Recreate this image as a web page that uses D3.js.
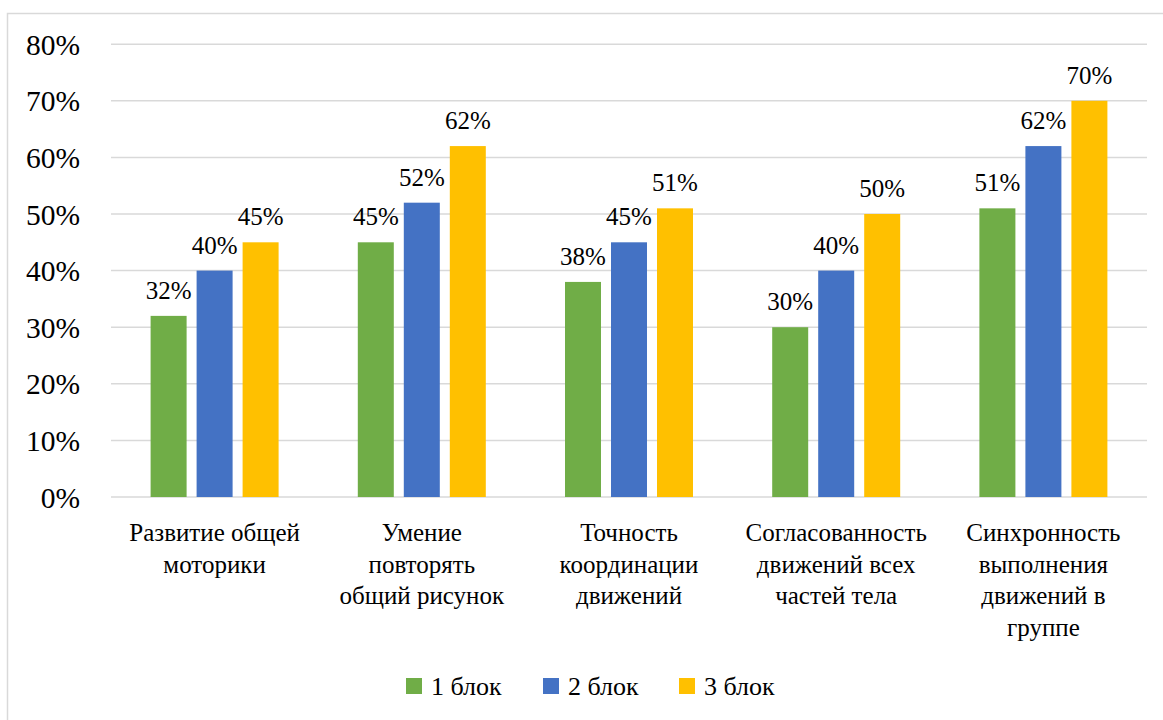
<!DOCTYPE html>
<html>
<head>
<meta charset="utf-8">
<script src="https://cdn.jsdelivr.net/npm/d3@7"></script>
</head>
<body style="margin:0;background:#fff">
<svg id="chart" width="1163" height="720"></svg>
<script>
// Categories (multi-line labels) and series values, in percent
const categories = [
  ["Развитие общей", "моторики"],
  ["Умение", "повторять", "общий рисунок"],
  ["Точность", "координации", "движений"],
  ["Согласованность", "движений всех", "частей тела"],
  ["Синхронность", "выполнения", "движений в", "группе"]
];
const seriesNames = ["1 блок", "2 блок", "3 блок"];
const block1 = [32, 45, 38, 30, 51];
const block2 = [40, 52, 45, 40, 62];
const block3 = [45, 62, 51, 50, 70];
const yTicks = [0, 10, 20, 30, 40, 50, 60, 70, 80];
const colors = ["#70AD47", "#4472C4", "#FFC000"];

const series = [block1, block2, block3];
const faces = ["Liberation Serif"];

// Apply the serif label face to a selection
function serif(sel) {
  return sel.style("font-family", () => `"${faces[0]}"`);
}

const svg = d3.select("#chart");

// Outer chart frame
svg.append("rect")
  .attr("x", 7.5).attr("y", 13.5)
  .attr("width", 1200).attr("height", 800)
  .attr("fill", "none")
  .attr("stroke", "#D9D9D9")
  .attr("stroke-width", 1.5);

const plot = { left: 111, right: 1147, top: 44.2, bottom: 497 };

const x = d3.scaleBand()
  .domain(d3.range(categories.length))
  .range([plot.left, plot.right])
  .paddingInner(0).paddingOuter(0);

const y = d3.scaleLinear()
  .domain([0, 80])
  .range([plot.bottom, plot.top]);

// Gridlines
svg.append("g")
  .selectAll("line")
  .data(yTicks)
  .join("line")
  .attr("x1", plot.left).attr("x2", plot.right)
  .attr("y1", d => y(d)).attr("y2", d => y(d))
  .attr("stroke", "#D9D9D9")
  .attr("stroke-width", 1.5);

// Y axis labels
const yAxis = d3.axisLeft(y)
  .tickValues(yTicks)
  .tickFormat(d => d + "%")
  .tickSize(0)
  .tickPadding(0);
const yg = svg.append("g")
  .attr("transform", `translate(80,0)`)
  .call(yAxis);
yg.select(".domain").remove();
yg.attr("font-family", null);
serif(yg.selectAll("text"))
  .attr("font-size", 29.5)
  .attr("fill", "#000")
  .attr("dy", "0.34em");

// Bars inside each category
const barW = 36, gap = 10;
const groupW = barW * 3 + gap * 2;
const xs = d3.scaleBand()
  .domain(d3.range(series.length))
  .range([0, groupW])
  .paddingInner(gap / (barW + gap))
  .paddingOuter(0);

const groups = svg.append("g")
  .selectAll("g")
  .data(categories)
  .join("g")
  .attr("transform", (d, i) => `translate(${x(i) + x.bandwidth() / 2 - groupW / 2},0)`);

groups.each(function(cat, ci) {
  const g = d3.select(this);
  const vals = series.map((s, si) => ({ si, v: s[ci] }));
  g.selectAll("rect")
    .data(vals)
    .join("rect")
    .attr("x", d => xs(d.si))
    .attr("width", xs.bandwidth())
    .attr("y", d => y(d.v))
    .attr("height", d => y(0) - y(d.v))
    .attr("fill", d => colors[d.si]);
  serif(g.selectAll("text.val")
    .data(vals)
    .join("text"))
    .attr("class", "val")
    .attr("x", d => xs(d.si) + xs.bandwidth() / 2)
    .attr("y", d => y(d.v) - 17)
    .attr("text-anchor", "middle")
    .attr("font-size", 25)
    .attr("fill", "#000")
    .text(d => d.v + "%");
});

// Category labels
const catG = serif(svg.append("g")
  .selectAll("text")
  .data(categories)
  .join("text"))
  .attr("text-anchor", "middle")
  .attr("font-size", 25)
  .attr("fill", "#000")
  .attr("x", (d, i) => x(i) + x.bandwidth() / 2)
  .attr("y", 541);
catG.selectAll("tspan")
  .data(d => d)
  .join("tspan")
  .attr("x", function() { return d3.select(this.parentNode).attr("x"); })
  .attr("dy", (d, i) => i === 0 ? 0 : 31.5)
  .text(d => d);

// Legend
const legendX = [406, 543, 679];
const legend = svg.append("g")
  .selectAll("g")
  .data(seriesNames)
  .join("g")
  .attr("transform", (d, i) => `translate(${legendX[i]},678)`);
legend.append("rect")
  .attr("width", 16).attr("height", 16)
  .attr("fill", (d, i) => colors[i]);
serif(legend.append("text"))
  .attr("x", 25).attr("y", 17)
  .attr("font-size", 26)
  .attr("fill", "#000")
  .text(d => d);
</script>
</body>
</html>
